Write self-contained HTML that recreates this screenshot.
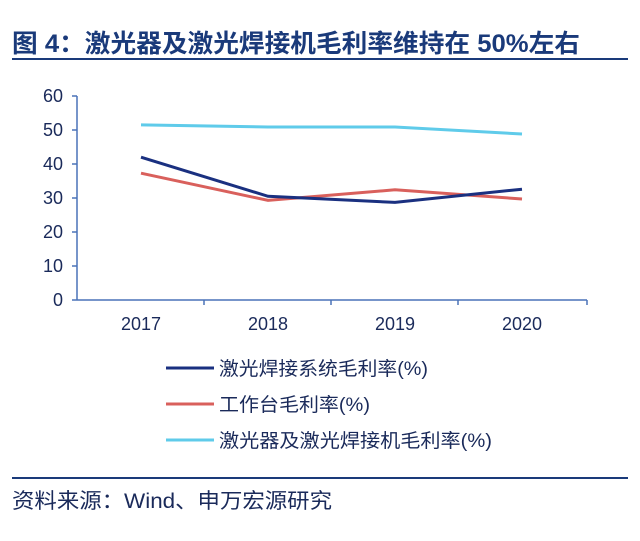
<!DOCTYPE html><html><head><meta charset="utf-8"><style>
body{margin:0;background:#fff;width:640px;height:536px;overflow:hidden;font-family:"Liberation Sans","Noto Sans CJK SC",sans-serif}
</style></head><body>
<svg width="640" height="536" xmlns="http://www.w3.org/2000/svg" font-family="Liberation Sans, Noto Sans CJK SC, sans-serif">
<text x="12" y="52" font-size="25" font-weight="bold" fill="#1a3a7a" textLength="568" lengthAdjust="spacingAndGlyphs">图 4：激光器及激光焊接机毛利率维持在 50%左右</text>
<line x1="12" y1="59" x2="628" y2="59" stroke="#1a3a7a" stroke-width="2"/>
<g stroke="#4a72b8" stroke-width="1.5" fill="none">
<line x1="77" y1="96" x2="77" y2="300"/>
<line x1="77" y1="300" x2="587" y2="300"/>
<line x1="72" y1="96" x2="77" y2="96"/><line x1="72" y1="130" x2="77" y2="130"/><line x1="72" y1="164" x2="77" y2="164"/><line x1="72" y1="198" x2="77" y2="198"/><line x1="72" y1="232" x2="77" y2="232"/><line x1="72" y1="266" x2="77" y2="266"/><line x1="72" y1="300" x2="77" y2="300"/>
<line x1="204" y1="300" x2="204" y2="305"/><line x1="331" y1="300" x2="331" y2="305"/><line x1="458" y1="300" x2="458" y2="305"/><line x1="587" y1="300" x2="587" y2="305"/>
</g>
<g font-size="18" fill="#1a2a5a" text-anchor="end">
<text x="63" y="102">60</text><text x="63" y="136">50</text><text x="63" y="170">40</text><text x="63" y="204">30</text><text x="63" y="238">20</text><text x="63" y="272">10</text><text x="63" y="306">0</text>
</g>
<g font-size="18" fill="#1a2a5a" text-anchor="middle">
<text x="141" y="330">2017</text><text x="268" y="330">2018</text><text x="395" y="330">2019</text><text x="522" y="330">2020</text>
</g>
<polyline points="141,124.9 268,127 395,127 522,134" stroke="#5fcbea" stroke-width="3" fill="none"/>
<polyline points="141,173.2 268,200.4 395,189.8 522,199" stroke="#d9605c" stroke-width="3" fill="none"/>
<polyline points="141,157.2 268,196.3 395,202.4 522,189.2" stroke="#1a3080" stroke-width="3" fill="none"/>
<g font-size="19" fill="#1a2a5a">
<line x1="166" y1="368" x2="214" y2="368" stroke="#1a3080" stroke-width="3"/><text x="219" y="375" textLength="209" lengthAdjust="spacingAndGlyphs">激光焊接系统毛利率(%)</text>
<line x1="166" y1="404" x2="214" y2="404" stroke="#d9605c" stroke-width="3"/><text x="219" y="411" textLength="151" lengthAdjust="spacingAndGlyphs">工作台毛利率(%)</text>
<line x1="166" y1="440" x2="214" y2="440" stroke="#5fcbea" stroke-width="3"/><text x="219" y="447" textLength="273" lengthAdjust="spacingAndGlyphs">激光器及激光焊接机毛利率(%)</text>
</g>
<line x1="12" y1="478" x2="628" y2="478" stroke="#1a3a7a" stroke-width="2"/>
<text x="12" y="508" font-size="21" fill="#1a2a5a" textLength="320" lengthAdjust="spacingAndGlyphs">资料来源：Wind、申万宏源研究</text>
</svg>
</body></html>
